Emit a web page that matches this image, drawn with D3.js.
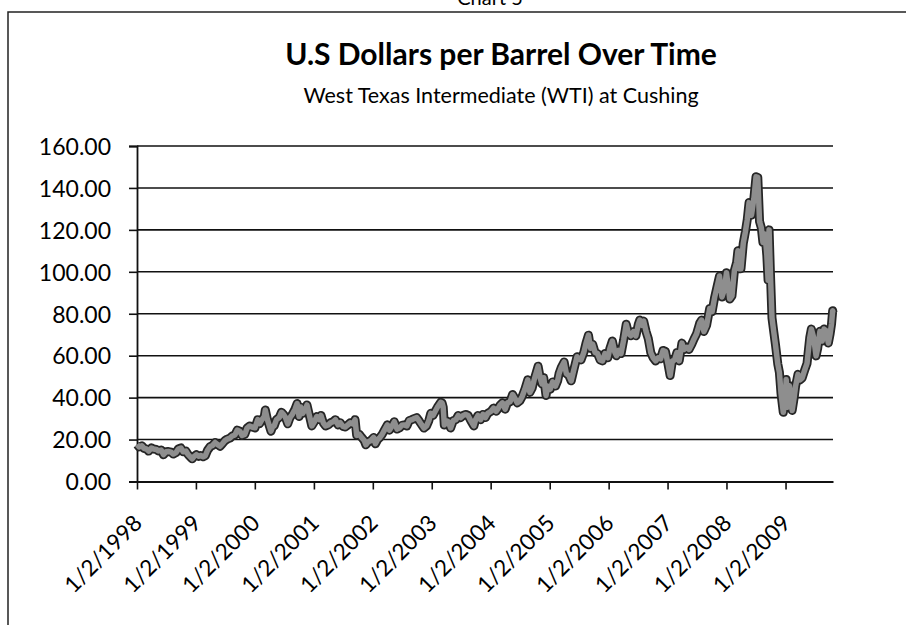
<!DOCTYPE html>
<meta charset="utf-8">
<script src="https://d3js.org/d3.v7.min.js"></script>
<html>
<head>
  <title>Chart 5</title>
  <style>
    body { margin: 0; background: #fff; }
    text { font-family: Lato, "Open Sans", sans-serif; fill: #000; }
  </style>
</head>
<body>
  <div id="my_dataviz"></div>
</body>
</html>

<script>
// WTI spot price at Cushing (roughly twice a month, plus spikes)
var dates = [
  "1998-01-02","1998-01-15","1998-02-01","1998-02-15","1998-03-01","1998-03-15","1998-04-01","1998-04-15",
  "1998-05-01","1998-05-15","1998-06-01","1998-06-15","1998-07-01","1998-07-15","1998-08-01","1998-08-15",
  "1998-09-01","1998-09-15","1998-10-01","1998-10-15","1998-11-01","1998-11-15","1998-12-01","1998-12-10","1998-12-22",
  "1999-01-05","1999-01-20","1999-02-01","1999-02-16","1999-03-01","1999-03-15","1999-04-01","1999-04-15",
  "1999-05-01","1999-05-15","1999-06-01","1999-06-15","1999-07-01","1999-07-15","1999-08-01","1999-08-15",
  "1999-09-01","1999-09-15","1999-10-01","1999-10-15","1999-11-01","1999-11-15","1999-12-01","1999-12-15",
  "2000-01-03","2000-01-20","2000-02-01","2000-02-15","2000-03-01","2000-03-07","2000-03-20","2000-04-01","2000-04-11","2000-04-20",
  "2000-05-01","2000-05-15","2000-06-01","2000-06-15","2000-06-28","2000-07-10","2000-07-24","2000-08-07","2000-08-21",
  "2000-09-07","2000-09-20","2000-10-02","2000-10-12","2000-10-25","2000-11-10","2000-11-20","2000-12-05","2000-12-20",
  "2001-01-05","2001-01-20","2001-02-05","2001-02-15","2001-03-01","2001-03-15","2001-04-02","2001-04-15",
  "2001-05-01","2001-05-15","2001-06-01","2001-06-15","2001-07-01","2001-07-15","2001-08-01","2001-08-15",
  "2001-09-01","2001-09-14","2001-09-24","2001-10-10","2001-10-25","2001-11-10","2001-11-20","2001-12-05","2001-12-20",
  "2002-01-07","2002-01-18","2002-02-01","2002-02-15","2002-03-01","2002-03-15","2002-04-02","2002-04-15",
  "2002-05-01","2002-05-15","2002-06-01","2002-06-15","2002-07-01","2002-07-15","2002-08-01","2002-08-15",
  "2002-09-01","2002-09-15","2002-10-01","2002-10-15","2002-11-01","2002-11-15","2002-12-01","2002-12-15","2002-12-27",
  "2003-01-10","2003-01-24","2003-02-07","2003-02-27","2003-03-07","2003-03-14","2003-03-21","2003-04-01","2003-04-15","2003-04-29",
  "2003-05-15","2003-06-01","2003-06-15","2003-07-01","2003-07-15","2003-08-01","2003-08-15","2003-09-01","2003-09-20",
  "2003-10-01","2003-10-15","2003-11-01","2003-11-15","2003-12-01","2003-12-15",
  "2004-01-05","2004-01-20","2004-02-05","2004-02-15","2004-03-01","2004-03-15","2004-04-01","2004-04-15",
  "2004-05-01","2004-05-17","2004-06-01","2004-06-15","2004-07-01","2004-07-15","2004-08-01","2004-08-19",
  "2004-09-01","2004-09-15","2004-10-01","2004-10-22","2004-11-05","2004-11-15","2004-11-26","2004-12-10","2004-12-20",
  "2005-01-05","2005-01-20","2005-02-07","2005-02-20","2005-03-01","2005-03-15","2005-04-01","2005-04-15",
  "2005-05-01","2005-05-15","2005-06-01","2005-06-20","2005-07-01","2005-07-15","2005-08-01","2005-08-15","2005-08-30",
  "2005-09-12","2005-09-25","2005-10-10","2005-10-25","2005-11-10","2005-11-25","2005-12-10","2005-12-28",
  "2006-01-10","2006-01-25","2006-02-10","2006-02-20","2006-03-05","2006-03-20","2006-04-05","2006-04-21",
  "2006-05-05","2006-05-20","2006-06-05","2006-06-20","2006-07-05","2006-07-14","2006-07-28","2006-08-07","2006-08-22",
  "2006-09-05","2006-09-20","2006-10-05","2006-10-20","2006-11-05","2006-11-20","2006-12-05","2006-12-20",
  "2007-01-05","2007-01-18","2007-02-01","2007-02-15","2007-03-01","2007-03-15","2007-04-01","2007-04-15",
  "2007-05-01","2007-05-15","2007-06-01","2007-06-15","2007-07-01","2007-07-20","2007-08-01","2007-08-15",
  "2007-09-01","2007-09-20","2007-10-05","2007-10-20","2007-11-05","2007-11-20","2007-12-05","2007-12-20",
  "2008-01-02","2008-01-15","2008-01-22","2008-02-05","2008-02-20","2008-03-05","2008-03-13","2008-03-20",
  "2008-04-01","2008-04-15","2008-04-28","2008-05-10","2008-05-21","2008-06-05","2008-06-20","2008-07-03","2008-07-14",
  "2008-07-25","2008-08-05","2008-08-15","2008-08-28","2008-09-08","2008-09-16","2008-09-22","2008-09-30","2008-10-10",
  "2008-10-20","2008-11-01","2008-11-15","2008-11-25","2008-12-05","2008-12-19","2008-12-31",
  "2009-01-06","2009-01-15","2009-01-26","2009-02-05","2009-02-12","2009-02-24","2009-03-05","2009-03-20",
  "2009-04-01","2009-04-15","2009-05-01","2009-05-15","2009-06-01","2009-06-11","2009-06-25","2009-07-10","2009-07-20",
  "2009-08-03","2009-08-17","2009-08-28","2009-09-10","2009-09-24","2009-10-05","2009-10-14","2009-10-21","2009-10-23"
];
var prices = [
  17.6,16.5,17.0,15.8,15.5,14.5,16.0,15.5, 15.3,14.6,15.0,12.8,14.2,14.3,14.0,13.1, 13.8,15.5,16.0,14.2,14.5,12.8,11.5,10.8,12.0,
  12.8,12.0,12.4,11.8,12.3,14.9,16.7,17.2, 18.6,17.7,16.8,18.0,19.5,20.2,20.7,21.7, 22.2,24.5,24.0,22.0,22.5,25.5,26.5,26.0,
  25.6,29.5,27.6,29.5,31.0,34.1,29.5,26.5,24.0,26.0, 26.5,29.5,30.5,33.0,32.0,30.5,27.5,30.5,32.0, 34.5,37.2,31.0,35.5,32.5,34.5,36.5,31.5,26.5,
  28.5,31.0,29.5,31.5,28.0,26.5,27.0,28.0, 28.5,29.5,27.0,28.0,26.3,26.0,27.0,28.0, 27.5,29.5,22.0,22.5,21.0,19.5,17.5,19.0,19.5,
  21.0,18.0,20.0,21.0,22.5,24.5,27.0,24.5, 26.5,28.5,25.0,25.5,26.8,27.0,26.5,29.0, 29.5,30.0,30.5,29.0,27.0,25.5,26.5,29.0,32.5,
  31.5,33.5,35.5,37.8,37.5,35.5,26.9,29.0,28.5,25.5, 29.0,29.5,31.5,30.5,31.5,32.0,31.5,29.0,26.5, 29.5,31.5,29.5,32.0,30.5,32.5,
  33.5,35.0,33.5,34.5,36.5,37.5,34.5,37.5, 38.0,41.5,39.5,37.5,38.5,40.5,44.0,48.5, 42.5,44.5,49.5,55.0,49.0,46.5,49.5,41.0,45.5,
  44.0,47.5,45.5,48.0,51.5,54.5,57.0,51.5, 50.5,48.0,53.5,59.5,58.5,58.0,61.5,66.0,69.8, 63.5,65.5,61.5,61.0,58.0,57.5,61.0,59.0,
  63.5,67.0,61.5,60.0,62.5,61.0,67.5,75.0, 70.5,69.5,71.5,69.5,75.0,77.0,74.5,76.5,71.5, 68.0,61.5,59.0,57.5,59.0,58.5,62.5,62.0,
  56.0,50.5,57.5,58.0,61.5,57.5,66.0,63.0, 64.0,63.0,65.5,68.0,70.5,75.5,77.0,71.5, 74.5,82.5,81.0,87.5,93.0,98.0,88.0,91.5,
  99.6,92.0,87.0,88.5,100.5,104.5,110.0,101.5, 101.5,113.5,119.0,125.0,133.0,127.0,135.0,145.3,145.0,
  124.0,121.0,114.0,118.0,108.0,96.0,120.0,100.0,78.0, 72.0,65.0,56.0,52.0,42.0,33.0,40.0,
  48.6,35.4,45.7,40.2,33.9,39.9,45.4,51.1, 48.4,49.4,53.2,56.3,68.6,72.7,68.7,59.9,63.5, 71.6,67.0,72.7,71.9,66.0,70.4,75.2,81.4,80.5
];
var yTicks = [0, 20, 40, 60, 80, 100, 120, 140, 160];
var xTickLabels = ["1/2/1998","1/2/1999","1/2/2000","1/2/2001","1/2/2002","1/2/2003",
                   "1/2/2004","1/2/2005","1/2/2006","1/2/2007","1/2/2008","1/2/2009"];

var parseDate = d3.timeParse("%Y-%m-%d");
var parseLabel = d3.timeParse("%m/%d/%Y");
var data = dates.map(function(d, i) { return {date: parseDate(d), price: prices[i]}; });

// plot area (Excel-ish layout)
var margin = {top: 146, left: 137},
    width = 833 - 137,
    height = 481.5 - 146;

var svg = d3.select("#my_dataviz")
  .append("svg")
    .attr("width", 906)
    .attr("height", 625);

// chart frame (cropped at right/bottom) and the sheet caption above it
svg.append("path")
  .attr("d", "M8,625 L8,12 L906,12")
  .attr("fill", "none")
  .attr("stroke", "#222")
  .attr("stroke-width", 1.5);

svg.append("text")
  .attr("x", 490)
  .attr("y", 5)
  .attr("text-anchor", "middle")
  .style("font-size", "20px")
  .text("Chart 5");

// titles
svg.append("text")
  .attr("x", 501)
  .attr("y", 65)
  .attr("text-anchor", "middle")
  .style("font-size", "30px")
  .style("font-weight", "bold")
  .text("U.S Dollars per Barrel Over Time");

svg.append("text")
  .attr("x", 501)
  .attr("y", 103)
  .attr("text-anchor", "middle")
  .style("font-size", "21.5px")
  .text("West Texas Intermediate (WTI) at Cushing");

var g = svg.append("g")
  .attr("transform", "translate(" + margin.left + "," + margin.top + ")");

var x = d3.scaleTime()
  .domain([parseDate("1998-01-02"), parseDate("2009-10-23")])
  .range([0, width]);

var y = d3.scaleLinear()
  .domain([0, 160])
  .range([height, 0]);

// horizontal gridlines
g.selectAll(".grid")
  .data(yTicks.slice(1))
  .enter()
  .append("line")
    .attr("class", "grid")
    .attr("x1", 0)
    .attr("x2", width)
    .attr("y1", function(d) { return y(d); })
    .attr("y2", function(d) { return y(d); })
    .attr("stroke", "#111")
    .attr("stroke-width", 1.6);

// y axis
var yAxis = g.append("g")
  .call(d3.axisLeft(y).tickValues(yTicks).tickSize(8).tickPadding(18).tickFormat(d3.format(".2f")));
yAxis.selectAll("line").attr("stroke", "#111").attr("stroke-width", 1.6);
yAxis.select(".domain").attr("stroke", "#111").attr("stroke-width", 1.8);
yAxis.selectAll("text")
  .style("font-size", "23px")
  .attr("dy", "0.36em");

// x axis
var xAxis = g.append("g")
  .attr("transform", "translate(0," + height + ")")
  .call(d3.axisBottom(x)
    .tickValues(xTickLabels.map(parseLabel))
    .tickSize(8)
    .tickSizeOuter(0)
    .tickFormat(d3.timeFormat("%-m/%-d/%Y")));
xAxis.selectAll("line").attr("stroke", "#111").attr("stroke-width", 1.6);
xAxis.select(".domain").attr("stroke", "#111").attr("stroke-width", 1.8);
xAxis.selectAll("text")
  .style("font-size", "22.5px")
  .attr("text-anchor", "end")
  .attr("dy", 0)
  .attr("y", 0)
  .attr("transform", "translate(6,43)rotate(-45)");

// the price line: thick dark band with a grey core
var line = d3.line()
  .x(function(d) { return x(d.date); })
  .y(function(d) { return y(d.price); });

g.append("path")
  .datum(data)
  .attr("fill", "none")
  .attr("stroke", "#262626")
  .attr("stroke-width", 9)
  .attr("stroke-linejoin", "round")
  .attr("d", line);

g.append("path")
  .datum(data)
  .attr("fill", "none")
  .attr("stroke", "#8e8e8e")
  .attr("stroke-width", 5.5)
  .attr("stroke-linejoin", "round")
  .attr("d", line);
</script>
